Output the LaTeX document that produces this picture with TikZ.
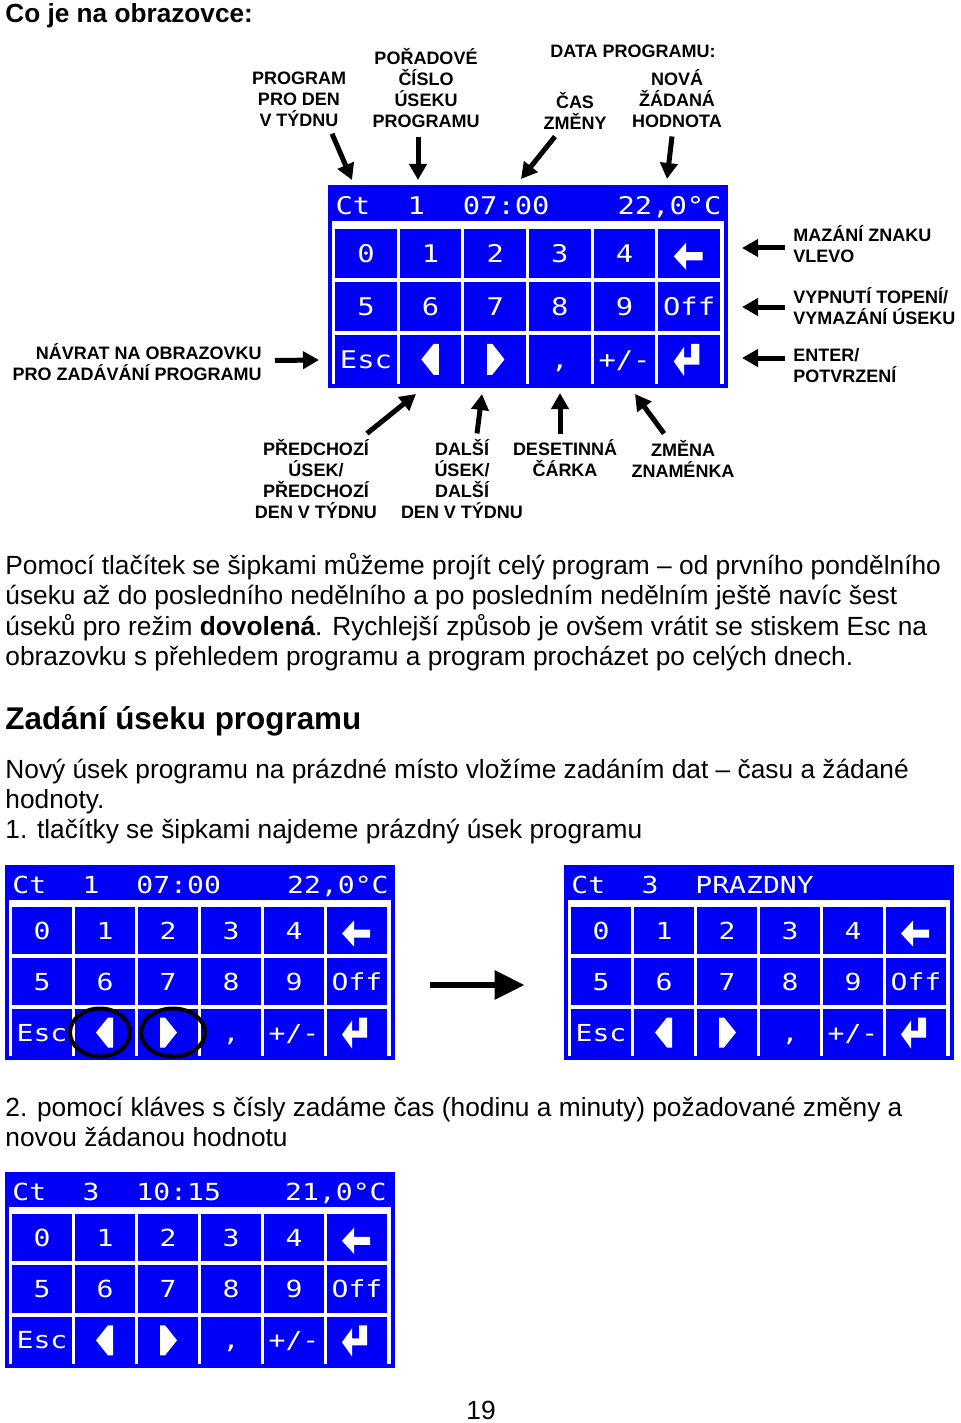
\documentclass[tikz,border=0pt]{standalone}
\usepackage{fontspec}
\setmainfont{Liberation Sans}
\newfontfamily\lcdfont[FakeStretch=1.2]{DejaVu Sans Mono}
\usetikzlibrary{arrows.meta}
\usetikzlibrary{positioning}
\definecolor{lcdblue}{RGB}{0,0,250}

\tikzset{
  lcdframe/.style={fill=lcdblue, minimum width=195pt, minimum height=97.5pt, inner sep=0pt},
  lcdkey/.style={fill=lcdblue, text=white, font=\lcdfont\fontsize{11.7}{12}\selectfont,
    minimum width=30pt, minimum height=23.5pt, inner sep=0pt, text height=8.5pt, text depth=0pt},
  lcdtext/.style={text=white, font=\lcdfont\fontsize{11.7}{12}\selectfont, inner sep=0pt, anchor=base west},
  lbl/.style={font=\bfseries\fontsize{9}{10.5}\selectfont, align=center, inner sep=0pt},
  callout/.style={-{Triangle[length=8pt,width=8.5pt]}, line width=2.5pt},
  bigarrow/.style={-{Triangle[length=15pt,width=14pt]}, line width=3pt},
  ring/.style={line width=2pt},
  body/.style={font=\fontsize{13.15}{15}\selectfont, anchor=base west, inner sep=0pt},
}

\newcommand{\lcdpanel}[3]{%
  \begin{scope}[#2, transform shape]
    \node[lcdframe] (#1) at (195,97.5) {};
    \fill[white] (4,35) rectangle (386,191);
    \foreach \k [count=\n from 0] in {0,1,2,3,4,{},5,6,7,8,9,Off,Esc,{},{},{,},+/-,{}}{
      \pgfmathtruncatemacro\kc{mod(\n,6)}
      \pgfmathtruncatemacro\kr{div(\n,6)}
      \node[lcdkey] (#1-\n) at (37+63*\kc,65.5+51*\kr) {\k};
    }
    \fill[white, shift={(352,68.5)}] (-15,0) -- (-3,-13) -- (-3,-4) -- (13,-4) -- (13,4) -- (-3,4) -- (-3,13) -- cycle;
    \fill[white, shift={(100,167.5)}] (-9,0) -- (3,-15) -- (8,-15) -- (8,15) -- (3,15) -- cycle;
    \fill[white, shift={(163,167.5)}] (9,0) -- (-3,-15) -- (-8,-15) -- (-8,15) -- (-3,15) -- cycle;
    \fill[white, shift={(352,167.5)}] (-15,2) -- (-5,-12) -- (-5,-2) -- (2,-2) -- (2,-15) -- (10,-15)
      -- (10,5) -- (-5,5) -- (-5,16) -- cycle;
    #3
  \end{scope}}

\begin{document}
\begin{tikzpicture}[x=0.5pt, y=-0.5pt]
\useasboundingbox (0,0) rectangle (960,1423);

\node[body, font=\bfseries\fontsize{13.1}{15}\selectfont] (title) at (5,23) {Co je na obrazovce:};

\lcdpanel{s1}{shift={(328,185)}, xscale=1.026, yscale=1.041}{
  \node[lcdtext] (s1-h1) at (7,28) {Ct};
  \node[lcdtext, anchor=base] (s1-h2) at (86,28) {1};
  \node[lcdtext] (s1-h3) at (131,28) {07:00};
  \node[lcdtext, anchor=base east] (s1-h4) at (384,28) {22,0°C};
}

\node[lbl] (lday) at (299,99) {PROGRAM\\PRO DEN\\V TÝDNU};
\node[lbl] (lnum) at (426,88.5) {POŘADOVÉ\\ČÍSLO\\ÚSEKU\\PROGRAMU};
\node[lbl] (ldata) at (633,51) {DATA PROGRAMU:};
\node[lbl] (ltime) at (575,110.5) {ČAS\\ZMĚNY};
\node[lbl] (lset) at (677,99) {NOVÁ\\ŽÁDANÁ\\HODNOTA};

\coordinate (tday) at (352,180);
\coordinate (tnum) at (418,180);
\coordinate (ttime) at (521,179);
\coordinate (tset) at (667,179);
\draw[callout] ([xshift=16.5pt,yshift=-3.5pt]lday.south) -- (tday);
\draw[callout] ([xshift=-4pt,yshift=-4pt]lnum.south) -- (tnum);
\draw[callout] ([xshift=-10pt,yshift=-3.5pt]ltime.south) -- (ttime);
\draw[callout] ([xshift=-2.5pt,yshift=-4pt]lset.south) -- (tset);

\node[lbl, align=left, anchor=west] (lmaz) at (793,244) {MAZÁNÍ ZNAKU\\VLEVO};
\node[lbl, align=left, anchor=west] (loff) at (793,306) {VYPNUTÍ TOPENÍ/\\VYMAZÁNÍ ÚSEKU};
\node[lbl, align=left, anchor=west] (lent) at (793,366) {ENTER/\\POTVRZENÍ};
\node[lbl, align=right, anchor=east] (lesc) at (262,362.5) {NÁVRAT NA OBRAZOVKU\\PRO ZADÁVÁNÍ PROGRAMU};

\coordinate (tmaz) at (742,248);
\coordinate (toff) at (742,307);
\coordinate (tent) at (742,358);
\coordinate (tesc) at (319,360);
\draw[callout] ([xshift=-4pt,yshift=-2pt]lmaz.west) -- (tmaz);
\draw[callout] ([xshift=-4pt,yshift=-0.5pt]loff.west) -- (toff);
\draw[callout] ([xshift=-4pt,yshift=4pt]lent.west) -- (tent);
\draw[callout] ([xshift=6.5pt,yshift=1pt]lesc.east) -- (tesc);

\node[lbl] (lprev) at (316,479.5) {PŘEDCHOZÍ\\ÚSEK/\\PŘEDCHOZÍ\\DEN V TÝDNU};
\node[lbl] (lnext) at (462,479.5) {DALŠÍ\\ÚSEK/\\DALŠÍ\\DEN V TÝDNU};
\node[lbl] (ldec) at (565,458.5) {DESETINNÁ\\ČÁRKA};
\node[lbl] (lsign) at (683,458.5) {ZMĚNA\\ZNAMÉNKA};

\coordinate (tprev) at (416,394);
\coordinate (tnext) at (482,394);
\coordinate (tdec) at (560,393);
\coordinate (tsign) at (635,394);
\draw[callout] ([xshift=25.5pt,yshift=3pt]lprev.north) -- (tprev);
\draw[callout] ([xshift=7.5pt,yshift=3pt]lnext.north) -- (tnext);
\draw[callout] ([xshift=-2.5pt,yshift=3pt]ldec.north) -- (tdec);
\draw[callout] ([xshift=-9.5pt,yshift=3pt]lsign.north) -- (tsign);

\node[body] (p1) at (5,574) {Pomocí tlačítek se šipkami můžeme projít celý program – od prvního pondělního};
\node[body] (p2) at (5,604.5) {úseku až do posledního nedělního a po posledním nedělním ještě navíc šest};
\node[body] (p3) at (5,635) {úseků pro režim \textbf{dovolená}. Rychlejší způsob je ovšem vrátit se stiskem Esc na};
\node[body] (p4) at (5,665.5) {obrazovku s přehledem programu a program procházet po celých dnech.};

\node[body, font=\bfseries\fontsize{15.7}{18}\selectfont] (head) at (5,729) {Zadání úseku programu};

\node[body] (q1) at (5,778) {Nový úsek programu na prázdné místo vložíme zadáním dat – času a žádané};
\node[body] (q2) at (5,808) {hodnoty.};
\node[body] (q3) at (5,838) {1. tlačítky se šipkami najdeme prázdný úsek programu};

\lcdpanel{s2}{shift={(5,865)}}{
  \node[lcdtext] (s2-h1) at (7,28) {Ct};
  \node[lcdtext, anchor=base] (s2-h2) at (86,28) {1};
  \node[lcdtext] (s2-h3) at (131,28) {07:00};
  \node[lcdtext, anchor=base east] (s2-h4) at (384,28) {22,0°C};
}
\draw[ring] ([xshift=-2.5pt]s2-13.center) ellipse [x radius=15pt, y radius=12pt];
\draw[ring] ([xshift=2.5pt]s2-14.center) ellipse [x radius=16pt, y radius=12pt];

\lcdpanel{s4}{shift={(564,865)}}{
  \node[lcdtext] (s4-h1) at (7,28) {Ct};
  \node[lcdtext, anchor=base] (s4-h2) at (86,28) {3};
  \node[lcdtext] (s4-h3) at (131,28) {PRAZDNY};
}
\draw[bigarrow] ([xshift=21.5pt,yshift=-1.75pt]s2-11.east) -- ([xshift=-23pt,yshift=-1.75pt]s4-6.west);

\node[body] (r1) at (5,1116) {2. pomocí kláves s čísly zadáme čas (hodinu a minuty) požadované změny a};
\node[body] (r2) at (5,1146) {novou žádanou hodnotu};

\lcdpanel{s3}{shift={(5,1172)}, yscale=1.005}{
  \node[lcdtext] (s3-h1) at (7,28) {Ct};
  \node[lcdtext, anchor=base] (s3-h2) at (86,28) {3};
  \node[lcdtext] (s3-h3) at (131,28) {10:15};
  \node[lcdtext, anchor=base east] (s3-h4) at (382,28) {21,0°C};
}

\node[body, anchor=base] (page) at (481,1419) {19};
\end{tikzpicture}
\end{document}
